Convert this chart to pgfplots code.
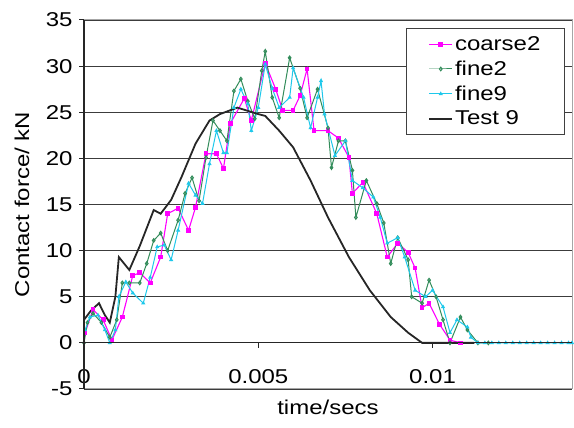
\documentclass[border=0pt]{standalone}
\usepackage{fontspec}
\setmainfont{Liberation Sans}[FakeStretch=1.2]
\usepackage{pgfplots}
\pgfplotsset{compat=1.18}
\definecolor{cmag}{RGB}{255,0,255}
\definecolor{cgreen}{RGB}{50,140,90}
\definecolor{ccyan}{RGB}{30,200,235}
\definecolor{gridc}{RGB}{60,60,60}
\newcommand{\bigf}{\fontsize{20}{24}\selectfont}
\begin{document}
\begin{tikzpicture}[x=1pt,y=1pt]
\path[use as bounding box] (0,0) rectangle (574,428);
\begin{axis}[
  at={(84pt,39pt)}, anchor=south west, scale only axis,
  width=488pt, height=369pt,
  xmin=0, xmax=0.014, ymin=-5, ymax=35,
  scaled x ticks=false,
  xtick={0,0.005,0.01}, xticklabels={0,0.005,0.01},
  ytick={-5,0,5,10,15,20,25,30,35},
  /pgf/number format/assume math mode=true,
  ymajorgrids, grid style={gridc, line width=1.2pt},
  axis line style={gray!70, line width=1pt},
  major tick style={draw=none},
  tick label style={font=\bigf},
  xticklabel style={anchor=south, yshift=2pt},
  yticklabel style={xshift=-8pt},
  xlabel={time/secs}, ylabel={Contact force/ kN},
  label style={font=\bigf},
  xlabel style={at={(axis description cs:0.5,0)}, anchor=north, yshift=-7pt},
  ylabel style={at={(axis description cs:-0.127,0.5)}, anchor=center},
  legend style={at={(rel axis cs:0.66,0.978)}, anchor=north west, draw=black!75, line width=0.8pt, font=\bigf, row sep=5pt, inner xsep=22pt, inner ysep=6pt},
  legend cell align=left,
  legend image code/.code={\draw[mark repeat=2,mark phase=2] plot coordinates {(0cm,0cm)(0.4cm,0cm)(0.8cm,0cm)};},
  clip=false,
]
\addplot[cmag, line width=1.1pt, mark=square*, mark size=1.8pt] coordinates {
(0.00003,1.1)(0.00026,3.6)(0.00055,2.5)(0.0008,0.3)(0.0011,2.8)(0.0014,7.3)(0.0016,7.6)(0.0019,6.5)(0.0022,9.3)(0.0024,14.0)(0.0027,14.6)(0.0030,12.2)(0.0032,14.7)(0.0035,20.5)(0.0038,20.5)(0.0040,18.9)(0.0042,23.8)(0.0046,26.5)(0.0048,24.1)(0.0052,30.3)(0.0055,27.5)(0.0057,25.2)(0.0060,25.2)(0.0062,26.8)(0.0064,29.7)(0.0066,23.0)(0.0070,23.0)(0.0073,22.2)(0.0076,20.1)(0.0077,16.2)(0.0080,17.4)(0.0084,14.0)(0.0087,9.3)(0.0090,10.8)(0.0093,9.8)(0.0095,8.1)(0.0097,3.8)(0.0099,4.3)(0.0102,2.0)(0.0105,0.3)(0.0108,0)
};
\addlegendentry{coarse2}
\addplot[cgreen, line width=1pt, mark=diamond, mark size=1.8pt] coordinates {
(0,0)(0.0001,2.2)(0.00026,3.2)(0.0005,2.2)(0.00074,0.6)(0.00094,2.5)(0.0011,6.5)(0.0013,6.5)(0.0016,6.5)(0.0018,8.6)(0.0020,11.1)(0.0022,11.9)(0.0024,10.0)(0.0027,13.3)(0.0029,16.2)(0.0031,17.9)(0.0033,15.4)(0.0035,20.1)(0.0037,24.1)(0.0039,23.0)(0.0041,21.9)(0.0043,27.3)(0.0045,28.6)(0.0047,26.2)(0.0049,24.3)(0.0051,29.5)(0.0052,31.6)(0.0054,26.6)(0.0056,24.4)(0.0059,30.9)(0.0062,27.6)(0.0064,24.4)(0.0067,27.5)(0.0070,23.3)(0.0071,19.0)(0.0073,21.9)(0.0075,21.9)(0.0077,18.7)(0.0078,13.6)(0.0081,17.6)(0.0084,15.1)(0.0086,13.0)(0.0088,8.6)(0.0090,11.4)(0.0093,9.0)(0.0094,5.0)(0.0097,4.3)(0.0099,6.8)(0.0101,5.0)(0.0103,2.5)(0.0105,0)(0.0108,2.8)(0.0110,1.4)(0.0113,0)(0.0116,0)
};
\addlegendentry{fine2}
\addplot[ccyan, line width=1pt, mark=triangle*, mark size=1.5pt] coordinates {
(0.00003,1.4)(0.00017,2.8)(0.0004,3.0)(0.0006,1.4)(0.00074,0)(0.0009,1.4)(0.0010,5.0)(0.0012,6.6)(0.0014,5.4)(0.0017,4.3)(0.0019,7.1)(0.0021,10.4)(0.0023,10.6)(0.0025,9.0)(0.0027,12.2)(0.0030,17.3)(0.0032,16.0)(0.0034,15.1)(0.0036,19.4)(0.0038,23.0)(0.0040,20.6)(0.0041,20.6)(0.0043,25.5)(0.0045,27.5)(0.0047,25.9)(0.0048,23.0)(0.0050,25.5)(0.0052,30.2)(0.0054,27.6)(0.0056,25.5)(0.0059,26.6)(0.0060,29.8)(0.0063,26.6)(0.0065,23.3)(0.0067,26.6)(0.0068,28.4)(0.0069,24.8)(0.0072,20.3)(0.0075,21.9)(0.0077,17.6)(0.0080,16.8)(0.0083,15.8)(0.0085,13.6)(0.0087,10.8)(0.0090,11.4)(0.0092,9.3)(0.0095,5.7)(0.0098,5.0)(0.0100,5.7)(0.0103,3.9)(0.0105,1.1)(0.0107,2.5)(0.0110,1.7)(0.0111,0.6)(0.0113,0)(0.0115,0)(0.0117,0)(0.0119,0)(0.0121,0)(0.0123,0)(0.0125,0)(0.0127,0)(0.0129,0)(0.0131,0)(0.0133,0)(0.0135,0)(0.0137,0)(0.0139,0)(0.0140,0)
};
\addlegendentry{fine9}
\addplot[black!85, line width=1.8pt] coordinates {
(0,2.5)(0.0002,3.5)(0.00043,4.3)(0.0006,3.0)(0.00074,2.2)(0.0009,5.0)(0.0010,9.3)(0.0013,7.9)(0.0016,10.5)(0.0020,14.4)(0.0022,14.0)(0.0025,15.5)(0.0028,18.0)(0.0032,21.6)(0.0036,24.1)(0.0039,24.8)(0.0044,25.5)(0.0050,24.8)(0.0052,24.6)(0.0056,23.0)(0.0060,21.2)(0.0065,17.6)(0.0070,13.6)(0.0076,9.3)(0.0082,5.7)(0.0088,2.8)(0.0093,1.1)(0.0097,0)(0.0112,0)
};
\addlegendentry{Test 9}
\end{axis}
\begin{axis}[
  at={(84pt,39pt)}, anchor=south west, scale only axis,
  width=488pt, height=369pt,
  xmin=0, xmax=0.014, ymin=-5, ymax=35,
  scaled x ticks=false,
  axis x line*=middle, axis y line*=left,
  axis line style={-, black!85, line width=1.2pt},
  xtick={0.005,0.01}, ytick={-5,0,5,10,15,20,25,30,35},
  xticklabels={}, yticklabels={},
  tick align=outside, major tick length=5pt,
  major tick style={black!85, line width=1pt},
]
\end{axis}
\end{tikzpicture}
\end{document}
